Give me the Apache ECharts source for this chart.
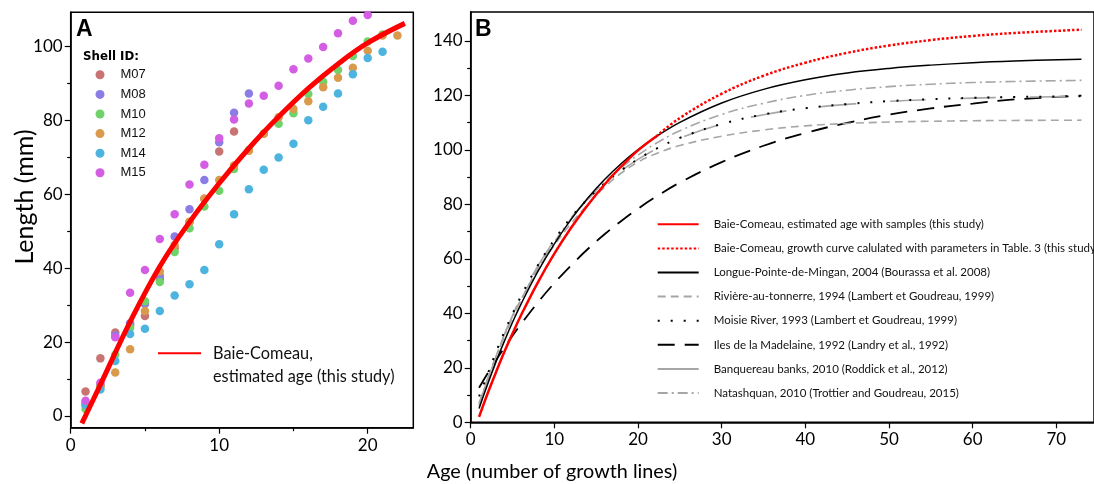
<!DOCTYPE html>
<html><head><meta charset="utf-8">
<script src="https://cdn.jsdelivr.net/npm/echarts@6/dist/echarts.min.js"></script>
<style>html,body{margin:0;padding:0;background:#fff}#c{width:1094px;height:484px}</style>
</head><body><div id="c"></div>
<script>
// ---------- Panel A data ----------
const shellIds = ['M07','M08','M10','M12','M14','M15'];
const shellColors = ['#c87472','#8a7de6','#6fd26a','#d99a4c','#4db4e0','#d35ee3'];
const ages = [1,2,3,4,5,6,7,8,9,10,11,12,13,14,15,16,17,18,19,20,21,22];
const m07 = [6.6,15.6,22.6,24.5,27.1,37.1,45.5,52.5,58.8,71.6,77.0];
const m08 = [3.5,8.5,21.8,25.1,30.3,38.0,48.6,56.0,63.9,74.1,82.1,87.3];
const m10 = [1.9,8.0,16.6,23.9,31.1,36.3,44.4,50.8,56.7,61.0,66.9,72.0,76.5,79.1,82.0,87.2,90.5,93.7,97.5,101.4,103.3];
const m12 = [3.0,8.0,11.8,18.1,28.4,39.1,46.3,52.6,58.8,63.9,67.8,71.8,76.4,80.9,83.1,85.2,89.0,91.6,94.3,98.9,103.0,103.0];
const m14 = [3.0,7.2,14.9,22.2,23.6,28.4,32.6,35.7,39.5,46.5,54.6,61.4,66.7,70.0,73.7,80.1,83.7,87.3,92.5,96.9,98.6];
const m15 = [4.1,9.0,21.3,33.4,39.5,47.9,54.6,62.7,68.0,75.2,80.3,84.6,86.7,89.4,93.9,96.8,99.9,103.6,107.0,108.6];
const shellValues = [m07,m08,m10,m12,m14,m15];
const curveAgesA = [0.75,2,4,6,8,10,12,14,16,18,20,22.5];
const curveLenA  = [-2,8.5,25.5,40.5,52.5,63,72.5,81,88.7,95.3,101,106.3];
const xTicksA = [0,10,20], xMinorA = [5,15];
const yTicksA = [0,20,40,60,80,100], yMinorA = [10,30,50,70,90];

// ---------- Panel B data ----------
const redAges = [1,2,3,4,5,6,8,10,12,14,16,18,20,22.2];
const redLen  = [2.0,10.4,18.2,25.7,32.6,39.2,51.2,61.9,71.4,79.8,87.3,93.9,99.8,105.0];
const redDotAges = [22.2,25,30,35,40,45,50,55,60,65,73];
const redDotLen  = [105.0,111.7,120.6,127.2,132.0,135.6,138.3,140.3,141.8,142.9,144.1];
const agesB = [1,2,3,4,5,6,8,10,12,14,16,18,20,22,25,30,35,40,45,50,55,60,65,73];
const longuePointe = [5.1,13.8,22.0,29.6,36.7,43.3,55.2,65.5,74.5,82.3,89.1,95.0,100.1,104.5,110.1,117.2,122.2,125.7,128.2,129.9,131.1,132.0,132.6,133.3];
const riviere      = [6,15,24,32,39,45,56,65,73,80,86.3,91.5,95.5,98.4,101.6,105,107.3,108.8,109.7,110.2,110.5,110.7,110.8,110.9];
const moisie       = [9.5,17.5,25.5,33.0,39.8,46.2,57.5,67.0,75.2,82.0,87.6,92.5,96.6,100.1,104.4,109.5,113.0,115.3,116.8,117.9,118.6,119.1,119.4,119.7];
const madelaine    = [12.7,17.8,22.7,27.3,31.8,36.0,43.9,51.1,57.6,63.6,69.0,73.9,78.4,82.5,88.0,95.5,101.5,106.2,109.9,112.9,115.2,117.0,118.5,119.9];
const banquereau   = [6.5,15.5,24.2,32.0,39.2,45.8,57.2,66.8,75.1,81.9,87.6,92.4,96.5,100,104.3,109.4,112.9,115.2,116.7,117.8,118.5,119.0,119.3,119.6];
const natashquan   = [7.0,15.8,23.9,31.4,38.3,44.8,56.3,66.2,74.7,81.9,88.2,93.5,98.1,102.1,107.0,113.0,117.1,120.0,121.9,123.2,124.1,124.7,125.1,125.5];
const namesB = [
 'Baie-Comeau, estimated age with samples (this study)',
 'Baie-Comeau, growth curve calulated with parameters in Table. 3 (this study)',
 'Longue-Pointe-de-Mingan, 2004 (Bourassa et al. 2008)',
 'Rivière-au-tonnerre, 1994 (Lambert et Goudreau, 1999)',
 'Moisie River, 1993 (Lambert et Goudreau, 1999)',
 'Iles de la Madelaine, 1992 (Landry et al., 1992)',
 'Banquereau banks, 2010 (Roddick et al., 2012)',
 'Natashquan, 2010 (Trottier and Goudreau, 2015)'
];
const xTicksB = [0,10,20,30,40,50,60,70];
const yTicksB = [0,20,40,60,80,100,120,140], yMinorB = [10,30,50,70,90,110,130];
const nameA = 'Baie-Comeau, estimated age (this study)';

const zip = (xs, ys) => ys.map((v,i) => [xs[i], v]);
const FONT = 'Lato';
const chart = echarts.init(document.getElementById('c'), null, {renderer:'canvas'});

function majorAxis(grid, min, max, ticks, isX) {
  return {
    type:'value', gridIndex:grid, min:min, max:max, position:isX?'bottom':'left',
    axisLine:{show:true, onZero:false, lineStyle:{color:'#000', width:1.5}},
    axisTick:{show:true, length:6, inside:false, customValues:ticks, lineStyle:{color:'#000', width:1.2}},
    axisLabel:{show:true, customValues:ticks, color:'#000', fontFamily:FONT, fontSize:17, margin:isX?9:8},
    splitLine:{show:false}
  };
}
function minorAxis(grid, min, max, ticks, isX) {
  return {
    type:'value', gridIndex:grid, min:min, max:max, position:isX?'bottom':'left',
    axisLine:{show:false, onZero:false},
    axisTick:{show:true, length:3.5, customValues:ticks, lineStyle:{color:'#000', width:1.2}},
    axisLabel:{show:false}, splitLine:{show:false}
  };
}

const series = [];
shellIds.forEach((id, i) => {
  series.push({
    name:id, type:'scatter', xAxisIndex:0, yAxisIndex:0,
    data: zip(ages, shellValues[i]), symbolSize:8.5,
    itemStyle:{color:shellColors[i], opacity:1}, z:2
  });
});
series.push({
  name:nameA, type:'line', xAxisIndex:0, yAxisIndex:0, smooth:0.4,
  data: zip(curveAgesA, curveLenA), symbol:'none',
  lineStyle:{color:'#ff0000', width:5}, itemStyle:{color:'#ff0000'}, z:5
});
const styleB = [
  {color:'#ff0000', width:2.5, type:'solid'},
  {color:'#ff0000', width:2.5, type:[2.5,2]},
  {color:'#000000', width:1.5, type:'solid'},
  {color:'#a6a6a6', width:1.6, type:[8,5]},
  {color:'#000000', width:2, type:[2,11]},
  {color:'#000000', width:1.8, type:[17,10]},
  {color:'#a6a6a6', width:1.6, type:[36,34]},
  {color:'#a6a6a6', width:1.6, type:[10,4,2,4]}
];
const dataB = [
  zip(redAges, redLen), zip(redDotAges, redDotLen),
  zip(agesB, longuePointe), zip(agesB, riviere), zip(agesB, moisie),
  zip(agesB, madelaine), zip(agesB, banquereau), zip(agesB, natashquan)
];
const zB = [9,8,6,4,5,3,4,4];
namesB.forEach((n, i) => {
  series.push({
    name:n, type:'line', xAxisIndex:2, yAxisIndex:2, smooth:0.4,
    data:dataB[i], symbol:'none', lineStyle:styleB[i], itemStyle:{color:styleB[i].color}, z:zB[i]
  });
});

const option = {
  animation:false,
  backgroundColor:'#fff',
  grid:[
    {left:70.7, top:12.3, width:342.6, height:415.4, show:true, borderColor:'#000', borderWidth:1.5, backgroundColor:'transparent'},
    {left:470.7, top:12, width:627.3, height:410.3, show:true, borderColor:'#000', borderWidth:1.5, backgroundColor:'transparent'}
  ],
  xAxis:[
    majorAxis(0, 0, 23.07, xTicksA, true),
    minorAxis(0, 0, 23.07, xMinorA, true),
    majorAxis(1, 0, 74.5, xTicksB, true)
  ],
  yAxis:[
    majorAxis(0, -3.17, 109.3, yTicksA, false),
    minorAxis(0, -3.17, 109.3, yMinorA, false),
    majorAxis(1, 0, 150.6, yTicksB, false),
    minorAxis(1, 0, 150.6, yMinorB, false)
  ],
  title:[
    {text:'A', left:71, top:13, textStyle:{fontFamily:'Liberation Sans', fontWeight:'bold', fontSize:23, color:'#000'}},
    {text:'B', left:470, top:13, textStyle:{fontFamily:'Liberation Sans', fontWeight:'bold', fontSize:23, color:'#000'}},
    {text:'Shell ID:', left:78, top:46, textStyle:{fontFamily:'DejaVu Sans', fontWeight:'bold', fontSize:11.8, color:'#000'}}
  ],
  legend:[
    {
      data:shellIds, orient:'vertical', left:95.5, top:68.3, padding:0,
      itemWidth:9, itemHeight:9, itemGap:6.6, icon:'circle', selectedMode:false,
      textStyle:{fontFamily:'Liberation Sans', fontSize:13, color:'#111', padding:[0,0,0,11]}
    },
    {
      data:[nameA], left:157, top:318, padding:0, itemWidth:43, itemHeight:6, selectedMode:false,
      itemStyle:{opacity:0},
      formatter: () => '\nBaie-Comeau,\nestimated age (this study)',
      textStyle:{fontFamily:FONT, fontSize:16.3, lineHeight:23.5, color:'#111', padding:[0,0,0,7]}
    },
    {
      data:namesB.map((n,i) => i===6 ? {name:n, lineStyle:{type:'solid'}} : n),
      orient:'vertical', left:656.7, top:218.3, padding:0,
      itemWidth:41, itemHeight:14, itemGap:12.1, selectedMode:false,
      itemStyle:{opacity:0},
      textStyle:{fontFamily:FONT, fontSize:11.5, color:'#111', padding:[0,0,0,10]}
    }
  ],
  graphic:[
    {type:'text', x:552, y:472, style:{text:'Age (number of growth lines)', fontFamily:FONT, fontSize:19.8, fill:'#000', textAlign:'center', textVerticalAlign:'middle'}},
    {type:'text', x:25, y:197, rotation:Math.PI/2, style:{text:'Length (mm)', fontFamily:FONT, fontSize:25, fill:'#000', textAlign:'center', textVerticalAlign:'middle'}}
  ],
  series:series
};
chart.setOption(option);
</script>
</body></html>
